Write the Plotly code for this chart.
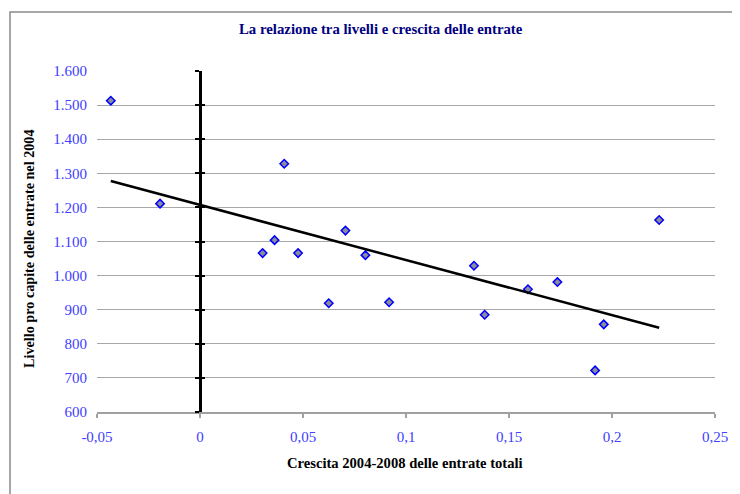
import numpy as np
import plotly.graph_objects as go

# Data
crescita = [-0.0433, -0.0194, 0.0409, 0.0304, 0.0362, 0.0476, 0.0625, 0.0706,
            0.0803, 0.0918, 0.1330, 0.1382, 0.1592, 0.1735, 0.1960, 0.1918, 0.2229]
livello = [1513, 1211, 1328, 1066, 1104, 1066, 919, 1132,
           1060, 922, 1029, 885, 960, 981, 857, 722, 1163]

x_tickvals = [-0.05, 0, 0.05, 0.1, 0.15, 0.2, 0.25]
x_ticktext = ["-0,05", "0", "0,05", "0,1", "0,15", "0,2", "0,25"]
y_tickvals = [600, 700, 800, 900, 1000, 1100, 1200, 1300, 1400, 1500, 1600]
y_ticktext = ["600", "700", "800", "900", "1.000", "1.100", "1.200", "1.300", "1.400", "1.500", "1.600"]

title = "La relazione tra livelli e crescita delle entrate"
x_title = "Crescita 2004-2008 delle entrate totali"
y_title = "Livello pro capite delle entrate nel 2004"

# Linear trendline (least squares), drawn over the data range
slope, intercept = np.polyfit(crescita, livello, 1)
trend_x = [min(crescita), max(crescita)]
trend_y = [intercept + slope * v for v in trend_x]

FONT = "Liberation Serif"
TICK_BLUE = "#4040ff"

fig = go.Figure()
fig.add_trace(go.Scatter(
    x=crescita, y=livello, mode="markers",
    marker=dict(symbol="diamond", size=6.5, color="#8c8c9a",
                line=dict(color="#0000ff", width=1.5)),
    showlegend=False, hoverinfo="x+y"))
fig.add_trace(go.Scatter(
    x=trend_x, y=trend_y, mode="lines",
    line=dict(color="black", width=2.5), showlegend=False))

# invisible traces to activate overlay axes (black y axis at x=0 with cross ticks)
fig.add_trace(go.Scatter(x=[None], y=[None], yaxis="y2", showlegend=False))
fig.add_trace(go.Scatter(x=[None], y=[None], yaxis="y3", showlegend=False))

xr = [-0.05, 0.25]
pos0 = (0 - xr[0]) / (xr[1] - xr[0])

OFF = 8  # page body margin
W, H = 740 - OFF, 494 - OFF
ml, mr, mt, mb = 97 - OFF, 25, 71 - OFF, 82
pw = W - ml - mr
ph = H - mt - mb

def px_x(p):
    return (p - OFF - ml) / pw

def px_y(p):
    return (H - mb - (p - OFF)) / ph

fig.update_layout(
    width=W, height=H,
    margin=dict(l=ml, r=mr, t=mt, b=mb),
    paper_bgcolor="white", plot_bgcolor="white",
    font=dict(family=FONT, size=13, color="black"),
    xaxis=dict(range=xr, tickvals=x_tickvals, ticktext=x_ticktext,
               showgrid=False, zeroline=False,
               showline=True, linecolor="#a0a0a0", linewidth=1.5,
               ticks="outside", ticklen=4, tickcolor="#a0a0a0", tickwidth=1.5,
               tickfont=dict(family=FONT, size=15, color=TICK_BLUE),
               ticklabelstandoff=6),
    yaxis=dict(range=[600, 1600], tickvals=y_tickvals, ticktext=y_ticktext,
               showgrid=True, gridcolor="#a8a8a8", gridwidth=1.3,
               zeroline=False, showline=False, ticks="",
               tickfont=dict(family=FONT, size=15, color=TICK_BLUE),
               ticklabelstandoff=9),
    yaxis2=dict(range=[600, 1600], overlaying="y", anchor="free", position=pos0,
                side="left", showgrid=False, zeroline=False,
                showline=True, linecolor="black", linewidth=2.5,
                tickvals=y_tickvals, ticks="outside", ticklen=4,
                tickcolor="black", tickwidth=2, showticklabels=False),
    yaxis3=dict(range=[600, 1600], overlaying="y", anchor="free", position=pos0,
                side="left", showgrid=False, zeroline=False, showline=False,
                tickvals=y_tickvals, ticks="inside", ticklen=4,
                tickcolor="black", tickwidth=2, showticklabels=False),
    annotations=[
        dict(text="<b>" + title + "</b>", xref="paper", yref="paper",
             x=px_x(380.5), y=px_y(29), xanchor="center", yanchor="middle",
             showarrow=False,
             font=dict(family=FONT, size=14.8, color="#000080")),
        dict(text="<b>" + x_title + "</b>", xref="paper", yref="paper",
             x=px_x(405), y=px_y(463), xanchor="center", yanchor="middle",
             showarrow=False,
             font=dict(family=FONT, size=14.6, color="black")),
        dict(text="<b>" + y_title + "</b>", xref="paper", yref="paper",
             x=px_x(29), y=px_y(249), xanchor="center", yanchor="middle",
             showarrow=False, textangle=-90,
             font=dict(family=FONT, size=14.2, color="black")),
    ],
    shapes=[
        dict(type="rect", xref="paper", yref="paper",
             x0=px_x(10), x1=px_x(760), y0=px_y(520), y1=px_y(12),
             line=dict(color="#8a8a8a", width=1.5), fillcolor="rgba(0,0,0,0)",
             layer="below"),
    ],
)

fig.write_html("out.html")
